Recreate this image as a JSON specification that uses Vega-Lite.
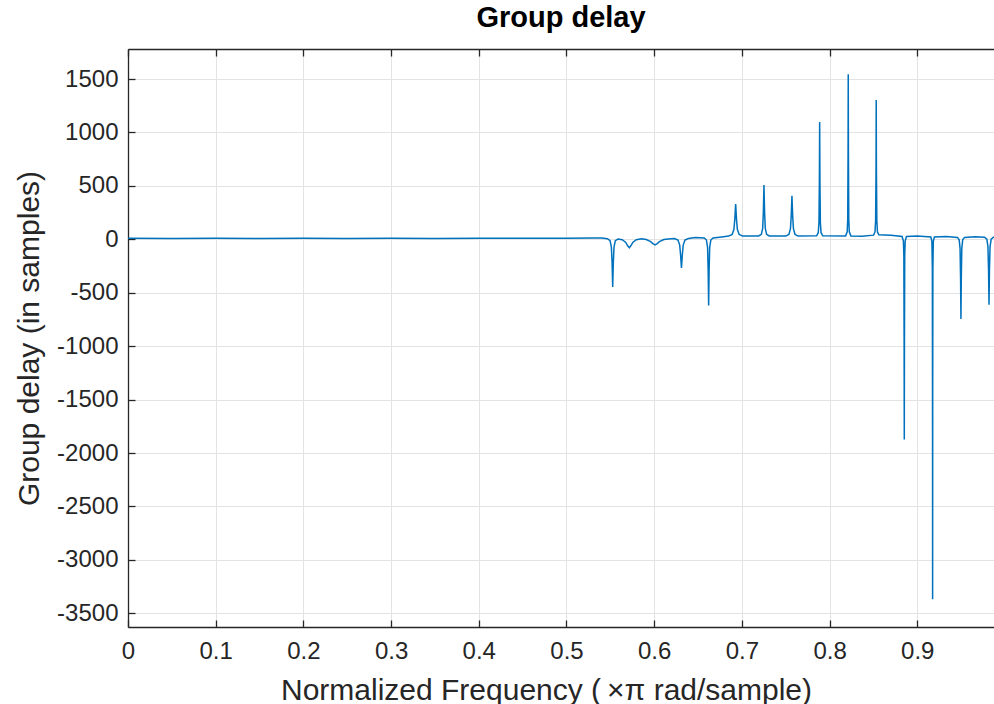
{
  "$schema": "https://vega.github.io/schema/vega-lite/v6.json",
  "width": 866,
  "height": 578,
  "autosize": {"type": "none"},
  "padding": {"left": 128, "top": 49, "right": 0, "bottom": 77},
  "background": "white",
  "title": {"text": "Group delay", "fontSize": 29, "fontWeight": "bold", "font": "Liberation Sans", "color": "#000000", "anchor": "middle", "offset": 15},
  "config": {
    "view": {"stroke": null},
    "axis": {"labelFont": "Liberation Sans", "titleFont": "Liberation Sans", "labelColor": "#262626", "titleColor": "#262626", "labelFontSize": 24, "titleFontSize": 30, "titleFontWeight": "normal", "domainColor": "#262626", "domainWidth": 1.3, "tickColor": "#262626", "tickWidth": 1.3, "tickSize": -7, "gridColor": "#e3e3e3", "gridWidth": 1}
  },
  "data": {"values": [
    {"f": 0, "gd": 9}, {"f": 0.05, "gd": 8}, {"f": 0.1, "gd": 9}, {"f": 0.15, "gd": 8}, {"f": 0.2, "gd": 9}, {"f": 0.25, "gd": 8}, {"f": 0.3, "gd": 9}, {"f": 0.35, "gd": 8}, {"f": 0.4, "gd": 9}, {"f": 0.45, "gd": 9}, {"f": 0.5, "gd": 11}, {"f": 0.53, "gd": 13}, {"f": 0.54, "gd": 12},
    {"f": 0.5467, "gd": 6}, {"f": 0.5497, "gd": -12}, {"f": 0.5512, "gd": -72}, {"f": 0.552, "gd": -218}, {"f": 0.5527, "gd": -447}, {"f": 0.5534, "gd": -218}, {"f": 0.5542, "gd": -72}, {"f": 0.5557, "gd": -12}, {"f": 0.5587, "gd": 3},
    {"f": 0.5636, "gd": -4}, {"f": 0.5676, "gd": -29}, {"f": 0.5696, "gd": -58}, {"f": 0.5716, "gd": -80}, {"f": 0.5736, "gd": -58}, {"f": 0.5756, "gd": -29}, {"f": 0.5796, "gd": -4}, {"f": 0.5856, "gd": 5},
    {"f": 0.591, "gd": -2}, {"f": 0.596, "gd": -22}, {"f": 0.5985, "gd": -40}, {"f": 0.601, "gd": -52}, {"f": 0.6035, "gd": -40}, {"f": 0.606, "gd": -22}, {"f": 0.611, "gd": -2}, {"f": 0.616, "gd": 4},
    {"f": 0.6231, "gd": 8}, {"f": 0.6271, "gd": -7}, {"f": 0.6291, "gd": -54}, {"f": 0.6301, "gd": -144}, {"f": 0.6311, "gd": -268}, {"f": 0.6321, "gd": -144}, {"f": 0.6331, "gd": -54}, {"f": 0.6351, "gd": -7}, {"f": 0.6391, "gd": 8}, {"f": 0.647, "gd": 18},
    {"f": 0.6571, "gd": 12}, {"f": 0.6596, "gd": -7}, {"f": 0.6609, "gd": -76}, {"f": 0.6616, "gd": -301}, {"f": 0.6621, "gd": -620}, {"f": 0.6626, "gd": -301}, {"f": 0.6633, "gd": -76}, {"f": 0.6646, "gd": -7}, {"f": 0.6671, "gd": 12}, {"f": 0.677, "gd": 22},
    {"f": 0.6849, "gd": 30}, {"f": 0.6889, "gd": 45}, {"f": 0.6909, "gd": 91}, {"f": 0.6919, "gd": 184}, {"f": 0.6929, "gd": 329}, {"f": 0.6939, "gd": 184}, {"f": 0.6949, "gd": 91}, {"f": 0.6969, "gd": 45}, {"f": 0.7009, "gd": 30},
    {"f": 0.7192, "gd": 31}, {"f": 0.7222, "gd": 47}, {"f": 0.7237, "gd": 103}, {"f": 0.7245, "gd": 253}, {"f": 0.7252, "gd": 509}, {"f": 0.7259, "gd": 253}, {"f": 0.7267, "gd": 103}, {"f": 0.7282, "gd": 47}, {"f": 0.7312, "gd": 31},
    {"f": 0.7501, "gd": 30}, {"f": 0.7536, "gd": 45}, {"f": 0.7554, "gd": 99}, {"f": 0.7563, "gd": 224}, {"f": 0.7571, "gd": 407}, {"f": 0.7579, "gd": 224}, {"f": 0.7588, "gd": 99}, {"f": 0.7606, "gd": 45}, {"f": 0.7641, "gd": 30},
    {"f": 0.7852, "gd": 33}, {"f": 0.7871, "gd": 62}, {"f": 0.7879, "gd": 157}, {"f": 0.7884, "gd": 561}, {"f": 0.7887, "gd": 1098}, {"f": 0.789, "gd": 561}, {"f": 0.7895, "gd": 157}, {"f": 0.7903, "gd": 62}, {"f": 0.7922, "gd": 33},
    {"f": 0.8183, "gd": 32}, {"f": 0.8201, "gd": 70}, {"f": 0.8207, "gd": 191}, {"f": 0.8211, "gd": 821}, {"f": 0.8213, "gd": 1544}, {"f": 0.8215, "gd": 821}, {"f": 0.8219, "gd": 191}, {"f": 0.8225, "gd": 70}, {"f": 0.8243, "gd": 32},
    {"f": 0.837, "gd": 28}, {"f": 0.8502, "gd": 39}, {"f": 0.8518, "gd": 69}, {"f": 0.8525, "gd": 174}, {"f": 0.853, "gd": 667}, {"f": 0.8532, "gd": 1304}, {"f": 0.8534, "gd": 667}, {"f": 0.8539, "gd": 174}, {"f": 0.8546, "gd": 69}, {"f": 0.8562, "gd": 42}, {"f": 0.87, "gd": 37},
    {"f": 0.8827, "gd": 26}, {"f": 0.8842, "gd": -17}, {"f": 0.8847, "gd": -156}, {"f": 0.885, "gd": -920}, {"f": 0.8852, "gd": -1874}, {"f": 0.8854, "gd": -920}, {"f": 0.8857, "gd": -156}, {"f": 0.8862, "gd": -17}, {"f": 0.8877, "gd": 26}, {"f": 0.9, "gd": 30},
    {"f": 0.9155, "gd": 21}, {"f": 0.9167, "gd": -18}, {"f": 0.9172, "gd": -273}, {"f": 0.9174, "gd": -1559}, {"f": 0.9175, "gd": -3369}, {"f": 0.9176, "gd": -1559}, {"f": 0.9178, "gd": -273}, {"f": 0.9183, "gd": -18}, {"f": 0.9195, "gd": 21}, {"f": 0.933, "gd": 26},
    {"f": 0.9458, "gd": 18}, {"f": 0.9478, "gd": -5}, {"f": 0.9488, "gd": -85}, {"f": 0.9494, "gd": -370}, {"f": 0.9498, "gd": -746}, {"f": 0.9502, "gd": -370}, {"f": 0.9508, "gd": -85}, {"f": 0.9518, "gd": -5}, {"f": 0.9538, "gd": 18}, {"f": 0.966, "gd": 24},
    {"f": 0.9768, "gd": 20}, {"f": 0.9793, "gd": 2}, {"f": 0.9806, "gd": -68}, {"f": 0.9813, "gd": -293}, {"f": 0.9818, "gd": -612}, {"f": 0.9823, "gd": -293}, {"f": 0.983, "gd": -68}, {"f": 0.9843, "gd": 2}, {"f": 0.9868, "gd": 20}, {"f": 0.99, "gd": 22}
  ]},
  "layer": [
    {
      "mark": {"type": "line", "color": "#0072BD", "strokeWidth": 1.5, "clip": true},
      "encoding": {
        "x": {"field": "f", "type": "quantitative", "scale": {"domain": [0, 0.9875], "nice": false, "zero": false},
          "axis": {"orient": "bottom", "values": [0, 0.1, 0.2, 0.3, 0.4, 0.5, 0.6, 0.7, 0.8, 0.9], "format": "~g", "labelPadding": 19, "title": "Normalized Frequency (\u2009×π rad/sample)", "titlePadding": 12, "titleX": 418, "titleAlign": "center", "grid": true, "labelFlush": false}},
        "y": {"field": "gd", "type": "quantitative", "scale": {"domain": [-3628, 1781], "nice": false, "zero": false},
          "axis": {"orient": "left", "values": [-3500, -3000, -2500, -2000, -1500, -1000, -500, 0, 500, 1000, 1500], "labelExpr": "datum.value < 0 ? '-' + abs(datum.value) : '' + datum.value", "labelPadding": 17, "title": "Group delay (in samples)", "titlePadding": 12, "grid": true}}
      }
    },
    {
      "mark": {"type": "point", "opacity": 0},
      "encoding": {
        "x": {"field": "f", "type": "quantitative", "axis": {"orient": "top", "values": [0, 0.1, 0.2, 0.3, 0.4, 0.5, 0.6, 0.7, 0.8, 0.9], "labels": false, "title": null, "grid": false}}
      }
    }
  ]
}
